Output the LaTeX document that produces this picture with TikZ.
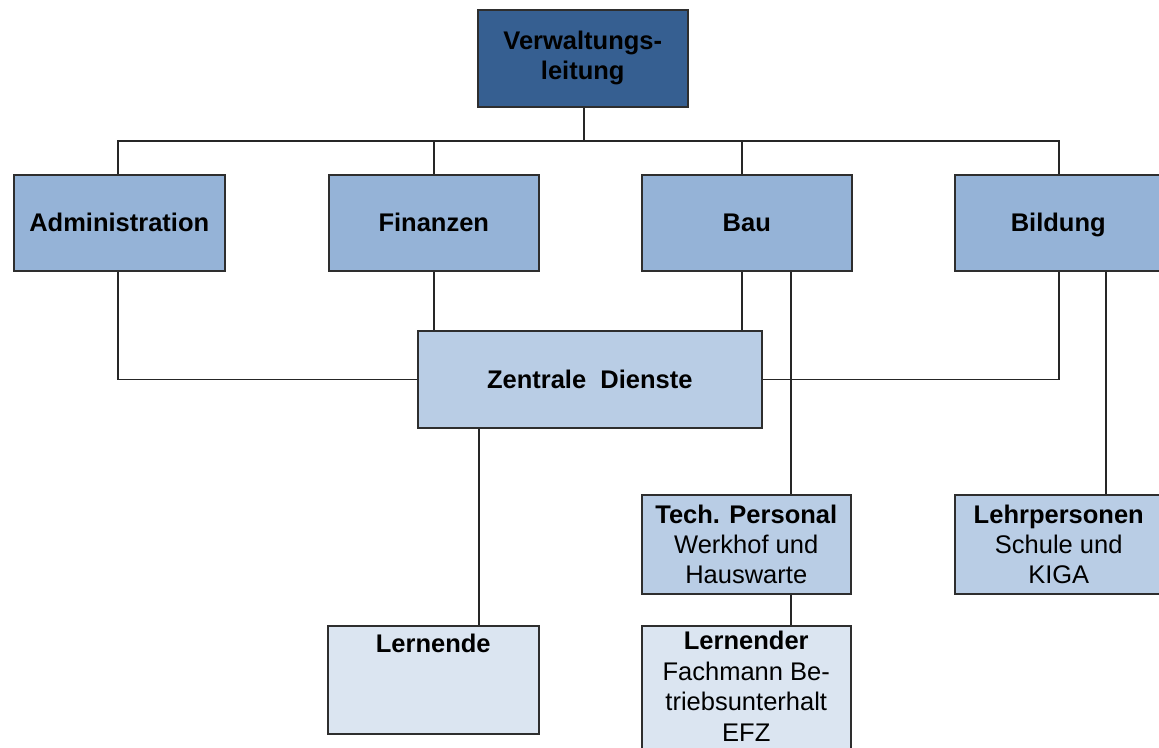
\documentclass[tikz,border=0pt]{standalone}
\usepackage{fontspec}
\setmainfont{Liberation Sans}
\definecolor{cdark}{HTML}{365F91}
\definecolor{cmid}{HTML}{95B3D7}
\definecolor{clight}{HTML}{B9CDE5}
\definecolor{cpale}{HTML}{DBE5F1}
\definecolor{cborder}{HTML}{2E2E2E}
\tikzset{
  box/.style={draw=cborder, line width=1.5pt, rectangle, inner sep=0pt, anchor=north west,
    align=center, font=\fontsize{25.5}{30}\selectfont},
  single/.style={text height=18, text depth=-6},
  conn/.style={draw=black!85, line width=1.5pt},
  txt/.style={inner sep=0pt, align=center, font=\fontsize{25.5}{30.5}\selectfont}
}
\begin{document}
\begin{tikzpicture}[x=1pt,y=-1pt]
\useasboundingbox (0,0) rectangle (1159,747);
\clip (0,0) rectangle (1159,747);
% boxes
\node[box, fill=cdark, minimum width=210, minimum height=97] (vl) at (477,9) {\bfseries Verwaltungs-\\\bfseries leitung};
\node[box, single, fill=cmid, minimum width=211, minimum height=96] (adm) at (13,174) {\bfseries Administration};
\node[box, single, fill=cmid, minimum width=210, minimum height=96] (fin) at (328,174) {\bfseries Finanzen};
\node[box, single, fill=cmid, minimum width=210, minimum height=96] (bau) at (641,174) {\bfseries Bau};
\node[box, single, fill=cmid, minimum width=207, minimum height=96] (bil) at (954,174) {\bfseries Bildung};
\node[box, single, fill=clight, minimum width=344, minimum height=97] (zd) at (417,330) {\bfseries Zentrale\ \ Dienste};
\node[box, fill=clight, minimum width=209, minimum height=99] (tech) at (641,494) {\bfseries Tech. Personal\\Werkhof und\\Hauswarte};
\node[box, fill=clight, minimum width=208, minimum height=99] (lehr) at (954,494) {\bfseries Lehrpersonen\\Schule und\\KIGA};
\node[box, fill=cpale, minimum width=211, minimum height=108] (lde) at (327,625) {};
\node[txt, anchor=north] (ldet) at ([yshift=-9]lde.north) {\bfseries Lernende};
\node[box, fill=cpale, minimum width=209, minimum height=140] (ldr) at (641,625) {};
\node[txt, anchor=north] (ldrt) at ([yshift=-6]ldr.north) {\bfseries Lernender\\Fachmann Be-\\triebsunterhalt\\EFZ};
% connectors
\coordinate (bus) at (584,141);
\draw[conn] (vl.south -| bus) -- (bus);
\draw[conn] ([xshift=-1.5]adm.north) |- (bus) -| ([xshift=0.5]bil.north);
\draw[conn] (fin.north) -- (fin.north |- bus);
\draw[conn] ([xshift=-5]bau.north) -- ([xshift=-5]bau.north |- bus);
\draw[conn] ([xshift=-1.5]adm.south) |- (zd.west);
\draw[conn] (fin.south) -- (fin.south |- zd.north);
\draw[conn] ([xshift=-5]bau.south) -- ([xshift=-5]bau.south |- zd.north);
\draw[conn] ([xshift=0.5]bil.south) |- (zd.east);
\draw[conn] ([xshift=44]bau.south) -- ([xshift=44]bau.south |- tech.north);
\draw[conn] ([xshift=44.5]tech.south) -- ([xshift=44.5]tech.south |- ldr.north);
\draw[conn] ([xshift=-111]zd.south) -- ([xshift=-111]zd.south |- lde.north);
\draw[conn] ([xshift=47.5]bil.south) -- ([xshift=47.5]bil.south |- lehr.north);
\end{tikzpicture}
\end{document}
